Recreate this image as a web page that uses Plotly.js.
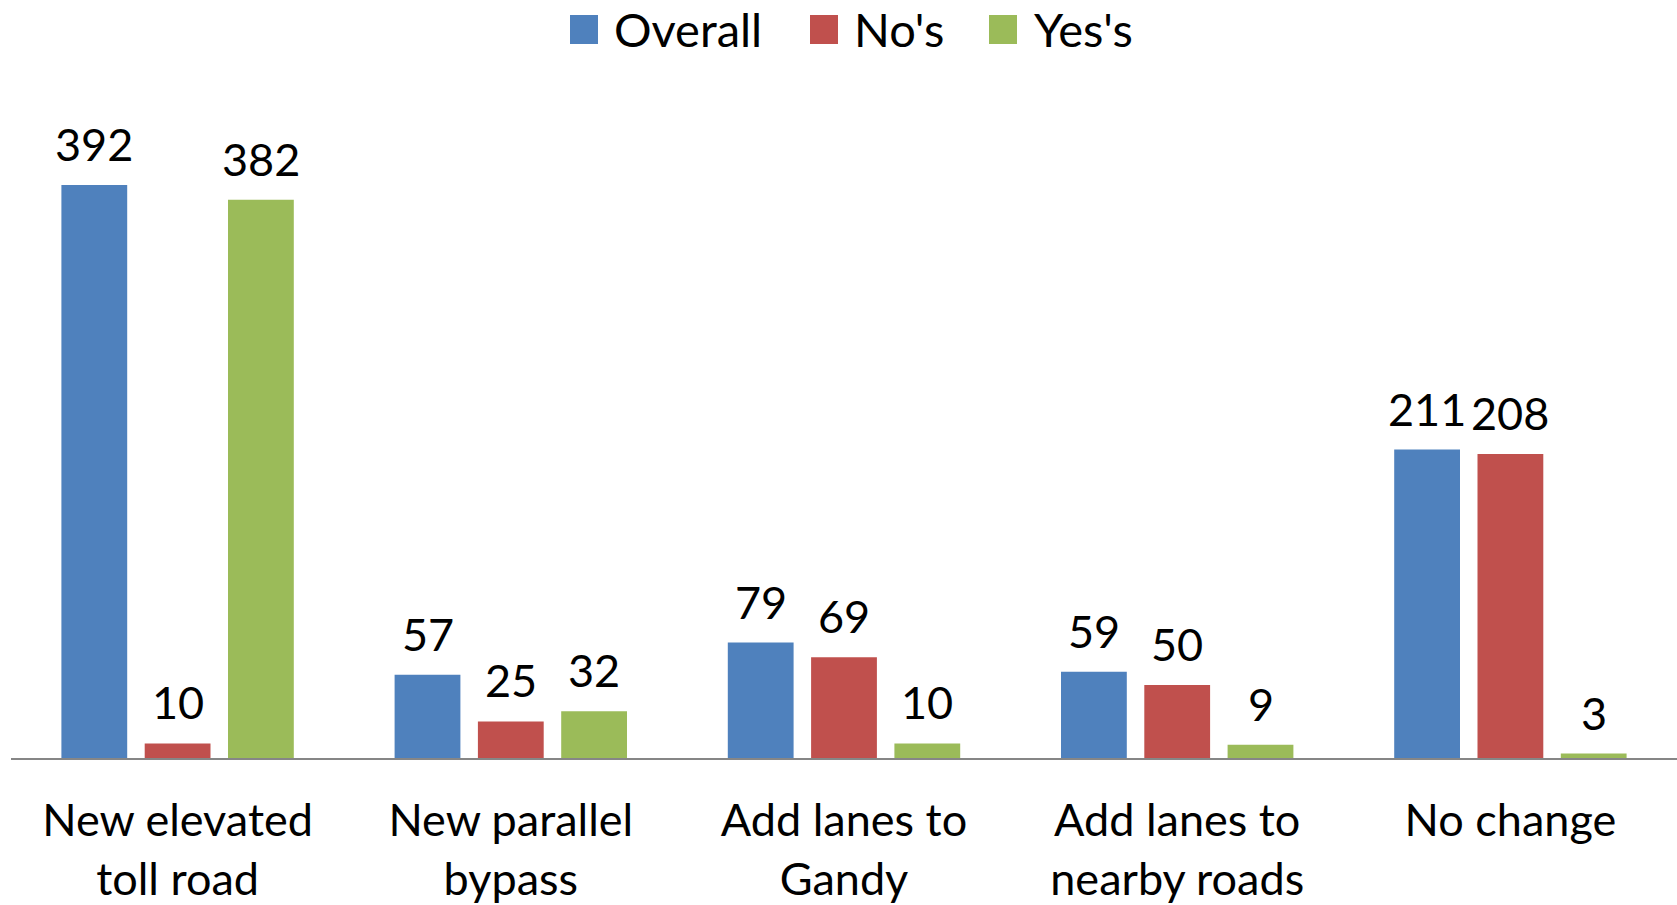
<!DOCTYPE html>
<html>
<head>
<meta charset="utf-8">
<script src="https://cdn.plot.ly/plotly-3.0.1.min.js"></script>
<style>html,body{margin:0;padding:0;background:#fff;}#chart{width:1677px;height:905px;}</style>
</head>
<body>
<div id="chart"></div>
<script>
const categories = ["New elevated<br>toll road", "New parallel<br>bypass", "Add lanes to<br>Gandy", "Add lanes to<br>nearby roads", "No change"];
const seriesNames = ["Overall", "No's", "Yes's"];
const overall = [392, 57, 79, 59, 211];
const nos = [10, 25, 69, 50, 208];
const yess = [382, 32, 10, 9, 3];
const colors = ["#4F81BD", "#C0504D", "#9BBB59"];

const FONT = "Lato, 'Open Sans', sans-serif";
const W = 1677, H = 905;
const margin = {l: 11, r: 0, t: 100, b: 147};
const plotW = W - margin.l - margin.r;
const plotH = H - margin.t - margin.b;
const pxPerUnit = 1.4617;
const yMax = plotH / pxPerUnit;

const seriesVals = [overall, nos, yess];
const traces = seriesVals.map((vals, i) => ({
  type: "bar",
  name: seriesNames[i],
  x: categories,
  y: vals,
  marker: {color: colors[i]},
  showlegend: false,
  hoverinfo: "x+y"
}));

const bargap = 0.25;
const slotPx = (plotW / categories.length) * (1 - bargap) / 3;
const annotations = [];
seriesVals.forEach((vals, i) => {
  vals.forEach((v, j) => {
    annotations.push({
      x: categories[j], y: v, xref: "x", yref: "y",
      text: String(v), showarrow: false,
      xanchor: "center", yanchor: "bottom",
      xshift: (i - 1) * slotPx, yshift: 12,
      font: {family: FONT, size: 45, color: "#000"}
    });
  });
});

// custom legend (large squares like the original)
const toPX = px => (px - margin.l) / plotW;
const toPY = py => (H - margin.b - py) / plotH;
const legendItems = [
  {sq: 570, tx: 612},
  {sq: 810, tx: 852},
  {sq: 989, tx: 1032}
];
const shapes = [];
legendItems.forEach((it, i) => {
  shapes.push({
    type: "rect", xref: "paper", yref: "paper",
    x0: toPX(it.sq), x1: toPX(it.sq + 28), y0: toPY(44), y1: toPY(15),
    fillcolor: colors[i], line: {width: 0}
  });
  annotations.push({
    xref: "paper", yref: "paper", x: toPX(it.tx), y: toPY(29),
    xanchor: "left", yanchor: "middle", showarrow: false,
    text: seriesNames[i], font: {family: FONT, size: 47, color: "#000"}
  });
});

const layout = {
  width: W, height: H,
  margin: margin,
  paper_bgcolor: "#fff", plot_bgcolor: "#fff",
  barmode: "group", bargap: bargap, bargroupgap: 0.21,
  showlegend: false,
  font: {family: FONT, size: 45, color: "#000"},
  xaxis: {
    type: "category",
    showline: true, linecolor: "#868686", linewidth: 2,
    ticks: "", showgrid: false, zeroline: false,
    ticklabelstandoff: 22,
    tickfont: {family: FONT, size: 45, color: "#000"},
    automargin: false
  },
  yaxis: {
    range: [0, yMax], visible: false, showgrid: false, zeroline: false
  },
  annotations: annotations,
  shapes: shapes
};

Plotly.newPlot("chart", traces, layout, {displayModeBar: false, staticPlot: true});
</script>
</body>
</html>
